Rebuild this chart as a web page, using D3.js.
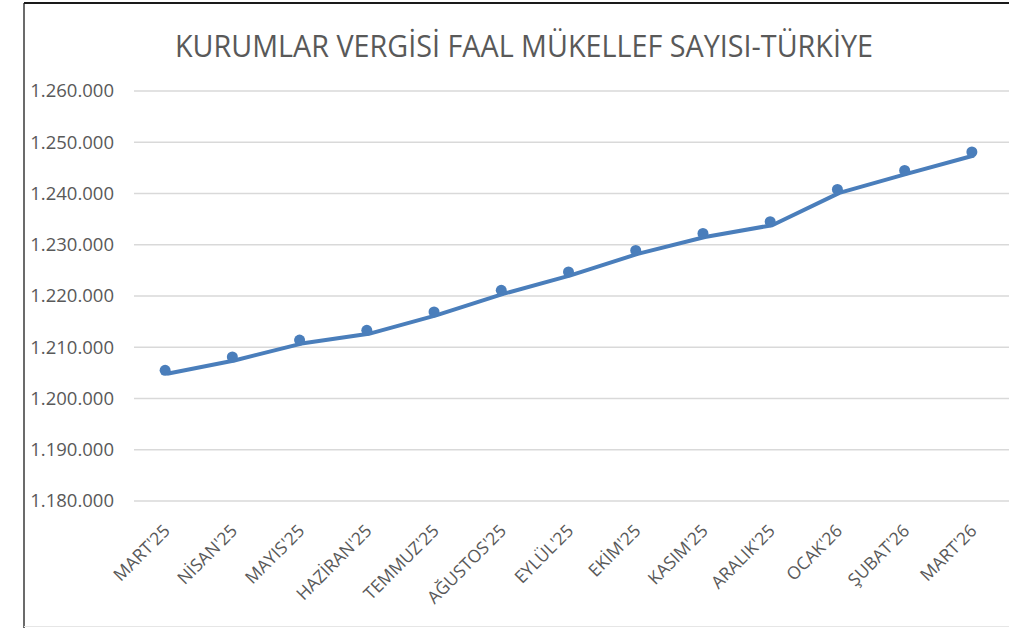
<!DOCTYPE html>
<html>
<head>
<meta charset="utf-8">
<script src="https://cdn.jsdelivr.net/npm/d3@7"></script>
<style>
    body{margin:0;background:#fff;}
    svg{display:block;}
    .grid line{stroke:#d9d9d9;stroke-width:1.5;}
    .axis text{fill:#595959;font-family:"Open Sans",sans-serif;}
    .axis path,.axis line{display:none;}
    .line{fill:none;stroke:#4a7ebb;stroke-width:4;stroke-linejoin:round;}
    .dot{fill:#4a7ebb;}
</style>
</head>
<body>
<div class="graph wrapper"></div>
<script>
'use strict';
var months = ["MART'25","NİSAN'25","MAYIS'25","HAZİRAN'25","TEMMUZ'25","AĞUSTOS'25","EYLÜL'25",
    "EKİM'25","KASIM'25","ARALIK'25","OCAK'26","ŞUBAT'26","MART'26"];
var counts = [1205500,1208100,1211400,1213300,1216900,1221100,1224700,
    1228900,1232200,1234500,1240800,1244500,1248100];
var yTicks = [1180000,1190000,1200000,1210000,1220000,1230000,1240000,1250000,1260000];
var title = "KURUMLAR VERGİSİ FAAL MÜKELLEF SAYISI-TÜRKİYE";

var width = 1009, height = 628;
var trNum = d3.formatLocale({decimal:",",thousands:".",grouping:[3],currency:["","₺"]}).format(",d");

var svg = d3.select(".graph.wrapper").append("svg")
    .attr("width", width)
    .attr("height", height);

// frame of the copied chart
svg.append("line").attr("x1",24).attr("x2",24).attr("y1",3).attr("y2",height)
    .attr("stroke","#3a3a3a").attr("stroke-width",1.5);
svg.append("line").attr("x1",24).attr("x2",width).attr("y1",3).attr("y2",3)
    .attr("stroke","#1a1a1a").attr("stroke-width",2);
svg.append("line").attr("x1",24).attr("x2",width).attr("y1",626.5).attr("y2",626.5)
    .attr("stroke","#e6e6e6").attr("stroke-width",1);

// title
svg.append("text")
    .attr("x",524).attr("y",57)
    .attr("text-anchor","middle")
    .attr("textLength",698).attr("lengthAdjust","spacingAndGlyphs")
    .style("font-family","'Open Sans',sans-serif")
    .style("font-size","31px").style("fill","#595959")
    .text(title);

// scales
var x = d3.scalePoint().domain(months).range([131.5,1005.5]).padding(0.5);
var y = d3.scaleLinear().domain([1180000,1260000]).range([501,91]);

// gridlines
svg.append("g").attr("class","grid")
    .selectAll("line").data(yTicks).enter().append("line")
    .attr("x1",134).attr("x2",width)
    .attr("y1",function(d){ return y(d); })
    .attr("y2",function(d){ return y(d); });

// y axis labels
svg.append("g").attr("class","axis")
    .attr("transform","translate(126,0)")
    .call(d3.axisLeft(y).tickValues(yTicks).tickFormat(trNum).tickSize(0).tickPadding(12))
    .selectAll("text").style("font-size","18.5px");

// x axis labels
svg.append("g").attr("class","axis")
    .selectAll("text").data(months).enter().append("text")
    .attr("transform",function(d){ return "translate(" + (x(d)+6) + ",532) rotate(-45)"; })
    .attr("text-anchor","end")
    .style("font-size","17.5px")
    .text(function(d){ return d; });

// the line sits a little below its markers in the original
var valueline = d3.line()
    .x(function(d,i){ return x(months[i]); })
    .y(function(d){ return y(d); });

svg.append("path")
    .datum(counts)
    .attr("class","line")
    .attr("transform","translate(2,3.5)")
    .attr("d",valueline);

svg.append("g").selectAll("circle").data(counts).enter().append("circle")
    .attr("class","dot")
    .attr("cx",function(d,i){ return x(months[i]); })
    .attr("cy",function(d){ return y(d); })
    .attr("r",5.5);
</script>
</body>
</html>
